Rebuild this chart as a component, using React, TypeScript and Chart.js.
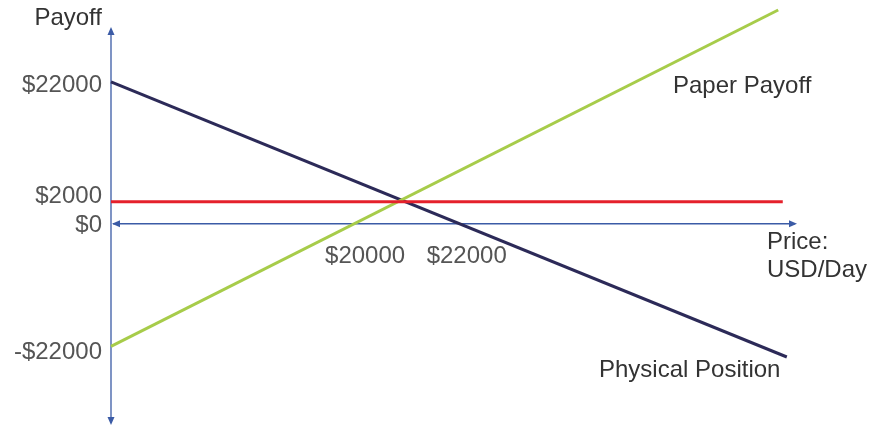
import { useEffect, useRef } from "react";
import { Chart, registerables } from "chart.js";

Chart.register(...registerables);

// Price axis (USD/Day) – schematic diagram values
const priceTicks = [20000, 22000];
const priceTickLabels = ["$20000", "$22000"];

// Payoff axis – where the labels sit on the schematic axis, and their texts
const payoffTickAt = [21700, 4600, 0, -19600];
const payoffTickLabels = ["$22000", "$2000", "$0", "-$22000"];

// Series (endpoints of each straight payoff line)
const physicalPrice = [15000, 28300];
const physicalPayoff = [22000, -20660];
const paperPrice = [15000, 28130];
const paperPayoff = [-19000, 33130];
const premiumPrice = [15000, 28220];
const premiumPayoff = [3400, 3400];

const seriesNames = ["Physical Position", "Paper Payoff", "Premium"];

const FONT = "'Liberation Sans', Arial, Helvetica, sans-serif";
const AXIS_COLOR = "#3b5ba6";

const toPoints = (xs: number[], ys: number[]) => xs.map((x, i) => ({ x, y: ys[i] }));

function arrow(ctx: CanvasRenderingContext2D, x: number, y: number, dir: "up" | "down" | "left" | "right") {
  const L = 8, W = 3.5;
  ctx.beginPath();
  if (dir === "up") { ctx.moveTo(x, y); ctx.lineTo(x - W, y + L); ctx.lineTo(x + W, y + L); }
  if (dir === "down") { ctx.moveTo(x, y); ctx.lineTo(x - W, y - L); ctx.lineTo(x + W, y - L); }
  if (dir === "left") { ctx.moveTo(x, y); ctx.lineTo(x + L, y - W); ctx.lineTo(x + L, y + W); }
  if (dir === "right") { ctx.moveTo(x, y); ctx.lineTo(x - L, y - W); ctx.lineTo(x - L, y + W); }
  ctx.closePath();
  ctx.fill();
}

const diagramPlugin = {
  id: "diagram",
  beforeDatasetsDraw(chart: any) {
    const { ctx, chartArea } = chart;
    const xs = chart.scales.x;
    const ys = chart.scales.y;
    const x0 = xs.getPixelForValue(xs.min);
    const y0 = ys.getPixelForValue(0);
    ctx.save();
    ctx.strokeStyle = AXIS_COLOR;
    ctx.fillStyle = AXIS_COLOR;
    ctx.lineWidth = 1.3;
    ctx.beginPath();
    ctx.moveTo(x0, chartArea.top + 2);
    ctx.lineTo(x0, chartArea.bottom - 2);
    ctx.moveTo(x0 + 2, y0);
    ctx.lineTo(chartArea.right - 2, y0);
    ctx.stroke();
    arrow(ctx, x0, chartArea.top, "up");
    arrow(ctx, x0, chartArea.bottom, "down");
    arrow(ctx, x0 + 1, y0, "left");
    arrow(ctx, chartArea.right, y0, "right");
    ctx.restore();
  },
  afterDraw(chart: any) {
    const { ctx, chartArea } = chart;
    const xs = chart.scales.x;
    const ys = chart.scales.y;
    const x0 = xs.getPixelForValue(xs.min);
    const y0 = ys.getPixelForValue(0);
    ctx.save();
    // payoff-axis tick labels, positioned by the y scale
    ctx.font = `24px ${FONT}`;
    ctx.fillStyle = "#555555";
    ctx.textAlign = "right";
    ctx.textBaseline = "middle";
    ys.ticks.forEach((t: any, i: number) => {
      ctx.fillText(payoffTickLabels[i], x0 - 9, ys.getPixelForValue(t.value) + 2);
    });
    ctx.fillStyle = "#333333";
    ctx.textBaseline = "alphabetic";
    ctx.textAlign = "right";
    ctx.fillText("Payoff", x0 - 9, chartArea.top - 2);
    ctx.textAlign = "left";
    ctx.fillText("Price:", chartArea.right - 30, y0 + 25);
    ctx.fillText("USD/Day", chartArea.right - 30, y0 + 53);
    ctx.fillText(seriesNames[1], 673, 93);
    ctx.fillText(seriesNames[0], 599, 377);
    ctx.restore();
  },
};

export default function App() {
  const ref = useRef<HTMLCanvasElement | null>(null);

  useEffect(() => {
    if (!ref.current) return;
    const chart = new Chart(ref.current, {
      type: "line",
      data: {
        datasets: [
          {
            label: seriesNames[2],
            data: toPoints(premiumPrice, premiumPayoff),
            borderColor: "#e5202b",
            borderWidth: 3,
            pointRadius: 0,
            clip: false as any,
          },
          {
            label: seriesNames[1],
            data: toPoints(paperPrice, paperPayoff),
            borderColor: "#a7cc4a",
            borderWidth: 3,
            pointRadius: 0,
            clip: false as any,
          },
          {
            label: seriesNames[0],
            data: toPoints(physicalPrice, physicalPayoff),
            borderColor: "#2c2a58",
            borderWidth: 3,
            pointRadius: 0,
            clip: false as any,
          },
        ],
      },
      options: {
        animation: false,
        responsive: false,
        devicePixelRatio: 1,
        events: [],
        layout: { padding: { left: 111, right: 74, top: 27, bottom: 1 } },
        plugins: { legend: { display: false }, tooltip: { enabled: false } },
        scales: {
          x: {
            type: "linear",
            min: 15000,
            max: 28500,
            position: { y: 0 } as any,
            grid: { display: false, drawTicks: false },
            border: { display: false },
            afterBuildTicks: (s: any) => {
              s.ticks = priceTicks.map((v) => ({ value: v }));
            },
            afterFit: (s: any) => {
              s.paddingLeft = 0; s.paddingRight = 0; s.paddingTop = 0; s.paddingBottom = 0;
            },
            ticks: {
              autoSkip: false,
              maxRotation: 0,
              padding: 18,
              color: "#555555",
              font: { family: FONT, size: 24 },
              callback: (_v: any, i: number) => priceTickLabels[i],
            },
          },
          y: {
            type: "linear",
            min: -31200,
            max: 30500,
            position: { x: 15000 } as any,
            grid: { display: false, drawTicks: false },
            border: { display: false },
            afterBuildTicks: (s: any) => {
              s.ticks = payoffTickAt.map((v) => ({ value: v }));
            },
            afterFit: (s: any) => {
              s.paddingLeft = 0; s.paddingRight = 0; s.paddingTop = 0; s.paddingBottom = 0;
            },
            ticks: {
              display: false,
              autoSkip: false,
              font: { family: FONT, size: 24 },
            },
          },
        },
      },
      plugins: [diagramPlugin],
    });
    return () => chart.destroy();
  }, []);

  return (
    <div style={{ position: "fixed", left: 0, top: 0, width: 871, height: 426, background: "#fff" }}>
      <canvas ref={ref} width={871} height={426} style={{ display: "block" }} />
    </div>
  );
}
